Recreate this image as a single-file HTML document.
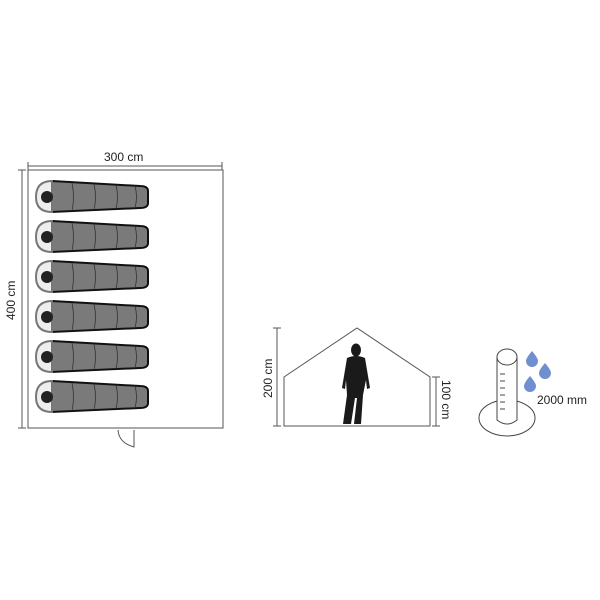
<!DOCTYPE html><html><head><style>body{margin:0;background:#fff}svg{display:block}text{font-family:"Liberation Sans",sans-serif;font-size:12px;fill:#222}</style></head><body>
<svg width="600" height="600" viewBox="0 0 600 600">
<defs>
<g id="bag">
<path d="M52,-16 L140,-11 Q148,-11 148,-6 L148,6 Q148,11 140,11 L52,15 Z" fill="#7a7a7a" stroke="#111" stroke-width="2"/>
<path d="M52,-16 Q36,-16 36,0 Q36,15 52,15 Z" fill="#eee" stroke="#777" stroke-width="2"/>
<circle cx="47" cy="0" r="6" fill="#222"/>
<g stroke="#333" stroke-width="0.8" fill="none">
<path d="M72,-14 Q75,0 72,14"/><path d="M94,-13 Q97,0 94,13"/><path d="M116,-12 Q119,0 116,12"/><path d="M135,-11 Q138,0 135,11"/></g>
</g>
</defs>
<g stroke="#555" stroke-width="1" fill="none">
<rect x="28" y="170" width="195" height="258"/>
<line x1="28" y1="166" x2="222" y2="166"/><line x1="28" y1="162" x2="28" y2="170"/><line x1="222" y1="162" x2="222" y2="170"/>
<line x1="22" y1="170" x2="22" y2="428"/><line x1="18" y1="170" x2="26" y2="170"/><line x1="18" y1="428" x2="26" y2="428"/>
<path d="M118,430 Q119,443 134,447 L134,430"/>
</g>
<text x="104" y="161">300 cm</text>
<text transform="translate(15,320) rotate(-90)">400 cm</text>
<use href="#bag" y="197"/><use href="#bag" y="237"/><use href="#bag" y="277"/><use href="#bag" y="317"/><use href="#bag" y="357"/><use href="#bag" y="397"/>
<g stroke="#555" stroke-width="1" fill="none">
<path d="M284,426 L284,377 L357,328 L430,377 L430,426 Z"/>
<line x1="277" y1="328" x2="277" y2="426"/><line x1="273" y1="328" x2="281" y2="328"/><line x1="273" y1="426" x2="281" y2="426"/>
<line x1="436" y1="377" x2="436" y2="426"/><line x1="432" y1="377" x2="440" y2="377"/><line x1="432" y1="426" x2="440" y2="426"/>
</g>
<text transform="translate(272,398) rotate(-90)">200 cm</text>
<text transform="translate(442,380) rotate(90)">100 cm</text>
<g fill="#1a1a1a">
<ellipse cx="356" cy="350" rx="5" ry="6.5"/>
<path d="M347,358 Q356,354 365,358 L370,388 L367,389 L366,380 L363,395 L361,424 L354,424 L357,398 L355,398 L351,424 L343,424 L347,395 L346,380 L345,389 L342,388 Z"/>
</g>
<g stroke="#444" stroke-width="1" fill="#fff">
<ellipse cx="507" cy="418" rx="28" ry="18"/>
<path d="M497,357 L497,420 Q507,428 517,420 L517,357"/>
<ellipse cx="507" cy="357" rx="10" ry="8"/>
</g>
<g stroke="#444" stroke-width="1"><line x1="500" y1="374" x2="505" y2="374"/><line x1="500" y1="381" x2="505" y2="381"/><line x1="500" y1="388" x2="505" y2="388"/><line x1="500" y1="395" x2="505" y2="395"/><line x1="500" y1="402" x2="505" y2="402"/><line x1="500" y1="409" x2="505" y2="409"/></g>
<g fill="#6f8fd0">
<path d="M532,351 Q526,358 526,361 A6,6 0 0 0 538,361 Q538,358 532,351Z"/>
<path d="M545,363 Q539,370 539,373 A6,6 0 0 0 551,373 Q551,370 545,363Z"/>
<path d="M530,376 Q524,383 524,386 A6,6 0 0 0 536,386 Q536,383 530,376Z"/>
</g>
<text x="537" y="404">2000 mm</text>
</svg></body></html>
